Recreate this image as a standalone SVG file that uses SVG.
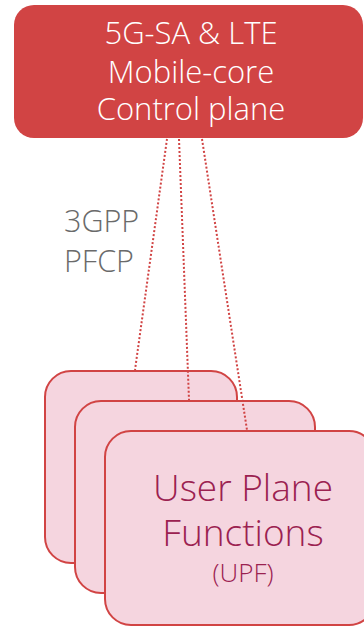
<svg xmlns="http://www.w3.org/2000/svg" width="364" height="628" viewBox="0 0 364 628">
<style>
.cp{fill:#d14444;}
.cpt{fill:#ffffff;font-family:"Open Sans","Liberation Sans",sans-serif;font-weight:300;font-size:31px;text-anchor:middle;}
.upf{fill:#f5d5df;stroke:#d14444;stroke-width:2;}
.upt{fill:#9b2150;font-family:"Open Sans","Liberation Sans",sans-serif;font-weight:300;text-anchor:middle;}
.lbl{fill:#6a6a6a;font-family:"Open Sans","Liberation Sans",sans-serif;font-weight:300;font-size:30.5px;}
.conn{stroke:#d14444;stroke-width:2;stroke-dasharray:2 2;fill:none;}
</style>
<g id="control-plane">
<rect class="cp" x="14" y="5" width="349" height="133" rx="20"/>
<text class="cpt" x="191" y="44">5G-SA &amp; LTE</text>
<text class="cpt" x="191" y="83">Mobile-core</text>
<text class="cpt" x="191" y="120">Control plane</text>
</g>
<g id="upf-1">
<rect class="upf" x="45" y="371" width="192" height="192" rx="26"/>
</g>
<g id="upf-2">
<rect class="upf" x="75" y="401" width="240" height="192" rx="26"/>
</g>
<g id="upf-3">
<rect class="upf" x="105" y="431" width="270" height="194" rx="26"/>
<text class="upt" x="243" y="501" font-size="37">User Plane</text>
<text class="upt" x="243" y="546" font-size="37">Functions</text>
<text class="upt" x="243" y="582" font-size="26">(UPF)</text>
</g>
<g id="connectors">
<line class="conn" x1="167" y1="139" x2="135" y2="370"/>
<line class="conn" x1="179" y1="139" x2="189" y2="400"/>
<line class="conn" x1="202" y1="139" x2="247" y2="430"/>
</g>
<g id="label">
<text class="lbl" x="64" y="232">3GPP</text>
<text class="lbl" x="64" y="272">PFCP</text>
</g>
</svg>
